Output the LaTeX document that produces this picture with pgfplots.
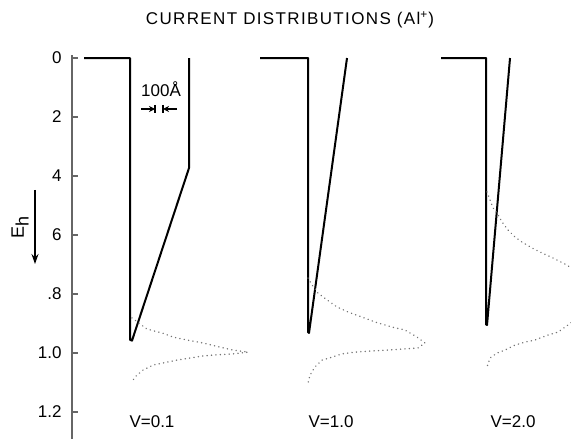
\documentclass[border=0pt]{standalone}
\usepackage{fontspec}
\setmainfont{Liberation Sans}
\newfontfamily\spaced[LetterSpace=8]{Liberation Sans}
\usepackage{pgfplots}
\pgfplotsset{compat=1.18}
\usetikzlibrary{arrows.meta}
\begin{document}
\begin{tikzpicture}
\useasboundingbox (0,0) rectangle (285.5pt,219.5pt);
\begin{axis}[
  at={(36pt,0pt)}, anchor=south west,
  scale only axis, width=249.5pt, height=192pt,
  xmin=72, xmax=571, ymin=-0.0102, ymax=1.2915,
  y dir=reverse,
  axis x line=none, axis y line*=left,
  axis line style={black!60, line width=1pt},
  ytick={0,0.2,0.4,0.6,0.8,1.0,1.2},
  yticklabels={0,2,4,6,.8,1.0,1.2},
  tick align=inside, major tick length=3pt,
  ytick style={black!60, line width=0.8pt},
  yticklabel style={font=\fontsize{8.5}{10}\selectfont, inner sep=0pt, xshift=-5pt},
  /pgf/number format/assume math mode=true,
  clip=true,
]
% solid profiles
\addplot[black, line width=1pt, line join=round] coordinates {(84,0) (130,0) (130,0.955) (132,0.958) (189,0.373) (189,0)};
\addplot[black, line width=1pt, line join=round] coordinates {(260,0) (308,0) (308,0.929) (309,0.932) (347,0)};
\addplot[black, line width=1pt, line join=round] coordinates {(441,0) (486,0) (486,0.903) (487,0.905) (510,0)};
% dotted current distributions
\addplot[black!55, line width=0.8pt, line cap=round, dash pattern=on 0.01pt off 2.2pt] coordinates {
(132,0.881) (147,0.919) (162,0.932) (173,0.946) (187,0.956) (203,0.966) (220,0.980) (233,0.990) (248,0.997)
(233,1.003) (217,1.006) (203,1.010) (190,1.017) (177,1.024) (167,1.031) (153,1.041) (143,1.058) (135,1.081) (132,1.098)};
\addplot[black!55, line width=0.8pt, line cap=round, dash pattern=on 0.01pt off 2.2pt] coordinates {
(308,0.746) (312,0.769) (318,0.797) (327,0.820) (337,0.844) (348,0.861) (362,0.878) (375,0.895) (392,0.912) (405,0.922) (417,0.946) (425,0.966)
(418,0.983) (405,0.986) (388,0.990) (372,0.993) (355,0.997) (342,1.003) (332,1.014) (322,1.024) (315,1.047) (310,1.075) (308,1.102)};
\addplot[black!55, line width=0.8pt, line cap=round, dash pattern=on 0.01pt off 2.2pt] coordinates {
(487,0.454) (490,0.481) (493,0.508) (497,0.525) (502,0.556) (508,0.583) (515,0.607) (522,0.624) (532,0.644) (542,0.661) (553,0.678) (567,0.702) (571,0.712)};
\addplot[black!55, line width=0.8pt, line cap=round, dash pattern=on 0.01pt off 2.2pt] coordinates {
(571,0.897) (568,0.905) (558,0.929) (548,0.939) (535,0.956) (525,0.963) (515,0.973) (505,0.990) (497,1.000) (490,1.017) (487,1.047)};
\end{axis}
\begin{scope}[yshift=219.5pt, x=0.5pt, y=-0.5pt, font=\fontsize{8.5}{10}\selectfont]
\node[font=\spaced\fontsize{8.5}{10}\selectfont] at (290,20) {CURRENT DISTRIBUTIONS (Al\textsuperscript{+})};
\node at (152,422) {V=0.1};
\node at (331,422) {V=1.0};
\node at (513,422) {V=2.0};
\node at (161,89) {100Å};
\draw[line width=0.6pt,-{Stealth[length=3pt,width=3pt]}] (141,109)--(155,109);
\draw[line width=0.6pt] (155,105)--(155,113);
\draw[line width=0.6pt,-{Stealth[length=3pt,width=3pt]}] (177,109)--(163,109);
\draw[line width=0.6pt] (163,105)--(163,113);
\node[rotate=90, font=\fontsize{9}{10}\selectfont] at (20,227) {E\raisebox{-0.5ex}{h}};
\draw[line width=0.6pt,-{Stealth[length=5pt,width=3.5pt]}] (35,190)--(35,264);
\end{scope}
\end{tikzpicture}
\end{document}
